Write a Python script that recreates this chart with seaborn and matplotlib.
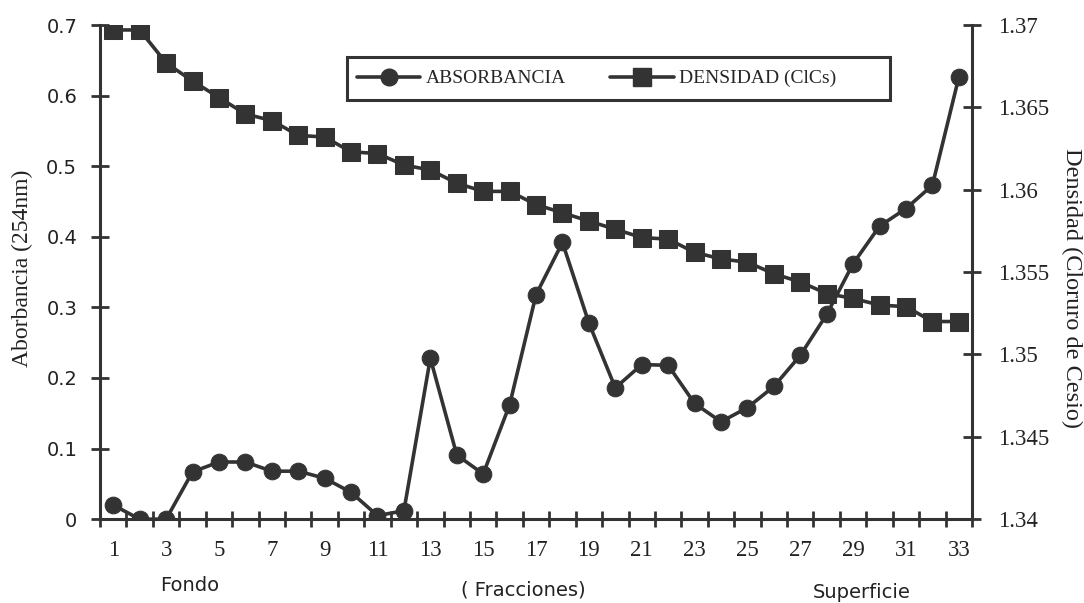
import numpy as np
import pandas as pd
import seaborn as sns
import matplotlib
matplotlib.use("Agg")
import matplotlib.pyplot as plt
from matplotlib.lines import Line2D
from matplotlib.patches import Rectangle

# data
fracciones = list(range(1, 34))
absorbancia = [0.020, 0.0, 0.0, 0.067, 0.081, 0.081, 0.068, 0.068, 0.058, 0.038,
               0.005, 0.012, 0.228, 0.091, 0.064, 0.162, 0.318, 0.392, 0.278, 0.186,
               0.219, 0.218, 0.164, 0.138, 0.158, 0.188, 0.232, 0.290, 0.362, 0.415,
               0.440, 0.473, 0.626]
densidad = [1.3697, 1.3697, 1.3677, 1.3666, 1.3656, 1.3646, 1.3642, 1.3633, 1.3632, 1.3623,
            1.3622, 1.3615, 1.3612, 1.3604, 1.3599, 1.3599, 1.3591, 1.3586, 1.3581, 1.3576,
            1.3571, 1.3570, 1.3562, 1.3558, 1.3556, 1.3549, 1.3544, 1.3537, 1.3534, 1.3530,
            1.3529, 1.3520, 1.3520]
abs_ticks = [0, 0.1, 0.2, 0.3, 0.4, 0.5, 0.6, 0.7]
abs_labels = ['0', '0.1', '0.2', '0.3', '0.4', '0.5', '0.6', '0.7']
dens_ticks = [1.34, 1.345, 1.35, 1.355, 1.36, 1.365, 1.37]
dens_labels = ['1.34', '1.345', '1.35', '1.355', '1.36', '1.365', '1.37']
x_labels = [str(i) for i in range(1, 34, 2)]

df = pd.DataFrame({'fraccion': fracciones, 'absorbancia': absorbancia, 'densidad': densidad})

sns.set_style("ticks")
plt.rcParams['font.family'] = ['DejaVu Sans']
serif = ['Liberation Serif', 'DejaVu Serif']
gris = '#333333'
texto = '#222222'

fig = plt.figure(figsize=(10.84, 6.03), dpi=100)
ax = fig.add_axes([0.0923, 0.139, 0.8044, 0.8195])
ax2 = ax.twinx()

sns.lineplot(data=df, x='fraccion', y='absorbancia', ax=ax, color=gris, linewidth=2.6,
             marker='o', markersize=12, markeredgecolor=gris, markerfacecolor=gris,
             legend=False)
sns.lineplot(data=df, x='fraccion', y='densidad', ax=ax2, color=gris, linewidth=2.6,
             marker='s', markersize=13, markeredgecolor=gris, markerfacecolor=gris,
             legend=False)

ax.set_xlim(0.5, 33.5)
ax.set_ylim(0, 0.7)
ax2.set_ylim(1.34, 1.37)

# spines
for a in (ax, ax2):
    a.spines['top'].set_visible(False)
    for s in a.spines.values():
        s.set_linewidth(2.2)
        s.set_color(gris)
ax.spines['right'].set_visible(False)
ax2.spines['left'].set_visible(False)
ax2.spines['bottom'].set_visible(False)

# x axis: marks between categories, labels on odd fractions
ax.set_xticks(np.arange(0.5, 34, 1))
ax.set_xticklabels([])
ax.tick_params(axis='x', which='major', direction='inout', length=11, width=2, color=gris)
ax.set_xticks(list(range(1, 34, 2)), minor=True)
ax.set_xticklabels(x_labels, minor=True, fontsize=16.5, family=serif)
ax.tick_params(axis='x', which='minor', length=0, pad=15, labelcolor=texto)

ax.set_yticks(abs_ticks)
ax.set_yticklabels(abs_labels, fontsize=14)
ax.tick_params(axis='y', direction='inout', length=13, width=2, color=gris, pad=10,
               labelcolor=texto)
ax2.set_yticks(dens_ticks)
ax2.set_yticklabels(dens_labels, fontsize=16.5, family=serif)
ax2.tick_params(axis='y', direction='inout', length=13, width=2, color=gris, pad=12,
                labelcolor=texto)

ax.set_xlabel('')
ax.set_ylabel('Aborbancia (254nm)', fontsize=17, family=serif, color=texto, va='center')
ax.yaxis.set_label_coords(-0.089, 0.508)
ax2.set_ylabel('Densidad (Cloruro de Cesio)', fontsize=17.5, family=serif, rotation=270,
               color=texto, va='center')
ax2.yaxis.set_label_coords(1.1147, 0.468)

# legend: frameless entries inside a drawn box
ax2.add_patch(Rectangle((0.2833, 0.848), 0.6227, 0.087, transform=ax2.transAxes,
                        facecolor='white', edgecolor=gris, linewidth=2.2, zorder=5))
h1 = Line2D([], [], color=gris, lw=2.6, marker='o', markersize=12)
h2 = Line2D([], [], color=gris, lw=2.6, marker='s', markersize=13)
leg = ax2.legend([h1, h2], ['ABSORBANCIA', 'DENSIDAD (ClCs)'], ncol=2,
                 loc='center left', bbox_to_anchor=(0.2947, 0.8915),
                 frameon=False, borderpad=0, borderaxespad=0,
                 handlelength=3.25, handletextpad=0.3, columnspacing=2.27,
                 prop={'family': serif, 'size': 14})
leg.set_zorder(6)

fig.text(0.175, 0.0282, 'Fondo', fontsize=14, ha='center', va='center', color=texto)
fig.text(0.4825, 0.0216, '( Fracciones)', fontsize=14, ha='center', va='center', color=texto)
fig.text(0.795, 0.0175, 'Superficie', fontsize=14, ha='center', va='center', color=texto)

fig.savefig('out.png', dpi=100)
